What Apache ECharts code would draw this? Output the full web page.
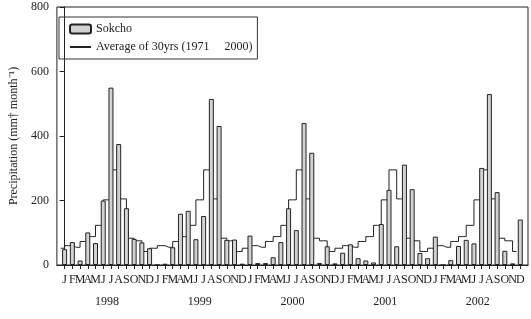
<!DOCTYPE html>
<html>
<head>
<meta charset="utf-8">
<script src="https://cdn.jsdelivr.net/npm/echarts@6/dist/echarts.min.js"></script>
<style>
  html, body { margin: 0; padding: 0; background: #fff; }
  #main { width: 531px; height: 319px; }
</style>
</head>
<body>
<div id="main"></div>
<script>
var months = ['J', 'F', 'M', 'A', 'M', 'J', 'J', 'A', 'S', 'O', 'N', 'D'];
var years = ['1998', '1999', '2000', '2001', '2002'];

// monthly precipitation, Sokcho (mm)
var sokcho1998 = [49, 71, 14, 101, 68, 200, 550, 375, 176, 81, 70, 52];
var sokcho1999 = [0, 4, 55, 159, 168, 80, 152, 515, 431, 78, 79, 4];
var sokcho2000 = [91, 6, 6, 24, 71, 176, 108, 440, 348, 6, 58, 5];
var sokcho2001 = [38, 64, 21, 14, 8, 127, 233, 58, 311, 235, 37, 21];
var sokcho2002 = [88, 0, 15, 59, 78, 67, 301, 530, 226, 44, 5, 141];

// 30 year normal (1971-2000)
var avg30 = [52, 60, 55, 73, 88, 123, 202, 295, 205, 83, 75, 42];

var yTicks = [0, 200, 400, 600, 800];

var FONT = 'Liberation Serif';
var INK = '#222';
var AVG_NAME = 'Average of 30yrs (1971     2000)';

var monthly = [].concat(sokcho1998, sokcho1999, sokcho2000, sokcho2001, sokcho2002);
var barData = monthly.map(function(v, i) { return [i, v]; });
var monthIdx = monthly.map(function(v, i) { return i; });
// month letters overlap a little, so they go on two label axes (even / odd)
var evenIdx = monthIdx.filter(function(i) { return i % 2 === 0; });
var oddIdx = monthIdx.filter(function(i) { return i % 2 === 1; });

var avgData = [];
for (var i = 0; i < monthly.length; i++) {
	avgData.push([i - 0.5, avg30[i % 12]]);
}
var yearCenters = years.map(function(y, k) { return k * 12 + 5.5; });

function monthLabel(v) { return months[Math.round(v) % 12]; }

function labelAxis(values, margin, formatter) {
	return {
		type: 'value',
		min: -1,
		max: 60,
		position: 'bottom',
		axisLine: { show: false },
		axisTick: { show: false },
		splitLine: { show: false },
		axisLabel: {
			customValues: values,
			margin: margin,
			fontFamily: FONT,
			fontSize: 12,
			color: INK,
			formatter: formatter
		}
	};
}

var chart = echarts.init(document.getElementById('main'));

var mainX = labelAxis(evenIdx, 9, monthLabel);
mainX.axisLine = { show: true, lineStyle: { color: INK, width: 1 } };
mainX.axisTick = { show: true, length: 4, customValues: monthIdx, lineStyle: { color: INK } };

var option = {
	animation: false,
	grid: {
		left: 50,
		right: 3,
		top: 7,
		bottom: 54,
		show: true,
		borderColor: INK,
		borderWidth: 1
	},
	legend: {
		orient: 'vertical',
		left: 59,
		top: 17,
		padding: [6, 5, 6, 10],
		itemGap: 6,
		itemWidth: 21,
		itemHeight: 9,
		borderColor: '#333',
		borderWidth: 1,
		textStyle: { fontFamily: FONT, fontSize: 12, color: INK },
		data: [
			{ name: 'Sokcho' },
			{ name: AVG_NAME, itemStyle: { color: 'rgba(0,0,0,0)', borderWidth: 0 } }
		]
	},
	xAxis: [
		mainX,
		labelAxis(oddIdx, 9, monthLabel),
		labelAxis(yearCenters, 31, function(v) { return years[Math.floor(v / 12)]; })
	],
	yAxis: {
		type: 'value',
		min: 0,
		max: 800,
		interval: 200,
		name: 'Precipitation (mm\u2020 month\u207B\u00B9)',
		nameLocation: 'middle',
		nameGap: 36,
		nameTextStyle: { fontFamily: FONT, fontSize: 12, color: INK },
		axisLine: { show: true, lineStyle: { color: INK } },
		axisTick: { show: true, length: 5, lineStyle: { color: INK } },
		splitLine: { show: false },
		axisLabel: {
			margin: 8,
			fontFamily: FONT,
			fontSize: 12,
			color: INK,
			customValues: yTicks
		}
	},
	series: [{
		name: 'Sokcho',
		type: 'bar',
		xAxisIndex: 0,
		barWidth: 5,
		z: 3,
		itemStyle: { color: '#d2d2d2', borderColor: INK, borderWidth: 1 },
		data: barData
	}, {
		name: AVG_NAME,
		type: 'line',
		xAxisIndex: 0,
		step: 'middle',
		symbol: 'none',
		z: 2,
		itemStyle: { color: INK },
		lineStyle: { color: INK, width: 1 },
		data: avgData
	}]
};

chart.setOption(option);
</script>
</body>
</html>
